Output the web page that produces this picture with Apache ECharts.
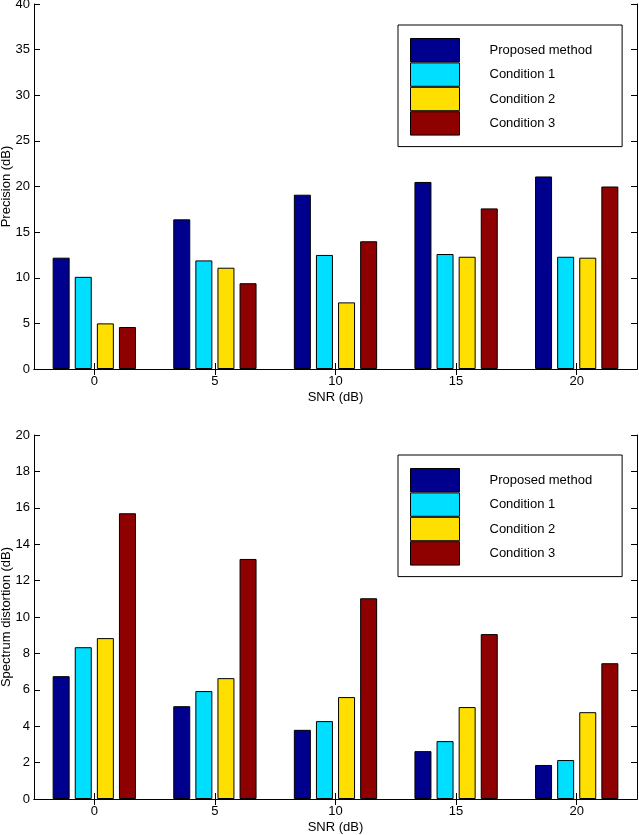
<!DOCTYPE html>
<html>
<head>
<meta charset="utf-8">
<title>SNR bars</title>
<script src="https://cdn.jsdelivr.net/npm/echarts@6/dist/echarts.min.js"></script>
<style>
  html, body { margin: 0; padding: 0; background: #fff; }
  #chart { width: 639px; height: 835px; }
</style>
</head>
<body>
<div id="chart"></div>
<script>
// categories and values
var snrLabels = ['0', '5', '10', '15', '20'];
var seriesNames = ['Proposed method', 'Condition 1', 'Condition 2', 'Condition 3'];
var barColors = ['#00008f', '#00dfff', '#ffdf00', '#8f0000'];

// top panel - Precision (dB)
var precProposed = [12.2, 16.4, 19.1, 20.5, 21.1];
var precCond1 = [10.1, 11.9, 12.5, 12.6, 12.3];
var precCond2 = [5.0, 11.1, 7.3, 12.3, 12.2];
var precCond3 = [4.6, 9.4, 14.0, 17.6, 20.0];

// bottom panel - Spectrum distortion (dB)
var distProposed = [6.75, 5.1, 3.8, 2.63, 1.87];
var distCond1 = [8.34, 5.93, 4.28, 3.18, 2.14];
var distCond2 = [8.84, 6.64, 5.6, 5.05, 4.77];
var distCond3 = [15.7, 13.19, 11.03, 9.06, 7.46];

var precData = [precProposed, precCond1, precCond2, precCond3];
var distData = [distProposed, distCond1, distCond2, distCond3];

var chart = echarts.init(document.getElementById('chart'));

var font = 'Liberation Sans, Arial, Helvetica, sans-serif';
var black = '#000';

// bottom category axis (labels + inward ticks)
function catAxis(grid, name) {
  return {
    type: 'category',
    gridIndex: grid,
    data: snrLabels,
    name: name,
    nameLocation: 'middle',
    nameGap: 22,
    nameMoveOverlap: false,
    nameTextStyle: { color: black, fontSize: 13, fontFamily: font },
    axisLine: { lineStyle: { color: black, width: 1 } },
    axisTick: { show: true, inside: true, length: 6, alignWithLabel: true, lineStyle: { color: black } },
    axisLabel: { color: black, fontSize: 13, fontFamily: font, margin: 6 },
    splitLine: { show: false }
  };
}

// mirrored top border with ticks pointing down
function topAxis(grid) {
  return {
    type: 'category',
    gridIndex: grid,
    position: 'top',
    data: snrLabels,
    axisLine: { lineStyle: { color: black, width: 1 } },
    axisTick: { show: true, inside: true, length: 6, alignWithLabel: true, lineStyle: { color: black } },
    axisLabel: { show: false },
    splitLine: { show: false }
  };
}

function valAxis(grid, max, step, name, right) {
  return {
    type: 'value',
    gridIndex: grid,
    position: right ? 'right' : 'left',
    min: 0,
    max: max,
    interval: step,
    name: right ? '' : name,
    nameLocation: 'middle',
    nameGap: 21,
    nameMoveOverlap: false,
    nameTextStyle: { color: black, fontSize: 13, fontFamily: font },
    axisLine: { show: true, lineStyle: { color: black, width: 1 } },
    axisTick: { show: true, inside: true, length: 6, lineStyle: { color: black } },
    axisLabel: { show: !right, color: black, fontSize: 13, fontFamily: font, margin: 4 },
    splitLine: { show: false }
  };
}

function legendBox(top) {
  return {
    orient: 'vertical',
    left: 398,
    top: top,
    padding: [13, 30, 11, 12],
    itemGap: 0,
    itemWidth: 49,
    itemHeight: 23.4,
    icon: 'rect',
    selectedMode: false,
    backgroundColor: '#fff',
    borderColor: black,
    borderWidth: 1,
    borderRadius: 0,
    itemStyle: { borderColor: black, borderWidth: 1 },
    textStyle: { color: black, fontSize: 13, fontFamily: font, padding: [0, 0, 0, 25], width: 107 },
    data: seriesNames
  };
}

var series = [];
[precData, distData].forEach(function (block, g) {
  block.forEach(function (vals, i) {
    series.push({
      name: seriesNames[i],
      type: 'bar',
      xAxisIndex: g * 2,
      yAxisIndex: g * 2,
      data: vals,
      barWidth: 17,
      barGap: '30%',
      itemStyle: { color: barColors[i], borderColor: black, borderWidth: 1 },
      emphasis: { disabled: true }
    });
  });
});

var option = {
  backgroundColor: '#fff',
  animation: false,
  color: barColors,
  grid: [
    { left: 34, right: 2, top: 4, height: 365, outerBoundsMode: 'none', containLabel: false },
    { left: 34, right: 2, top: 435, height: 364, outerBoundsMode: 'none', containLabel: false }
  ],
  legend: [legendBox(25), legendBox(455)],
  xAxis: [catAxis(0, 'SNR (dB)'), topAxis(0), catAxis(1, 'SNR (dB)'), topAxis(1)],
  yAxis: [
    valAxis(0, 40, 5, 'Precision (dB)', false),
    valAxis(0, 40, 5, '', true),
    valAxis(1, 20, 2, 'Spectrum distortion (dB)', false),
    valAxis(1, 20, 2, '', true)
  ],
  series: series
};

chart.setOption(option);
</script>
</body>
</html>
